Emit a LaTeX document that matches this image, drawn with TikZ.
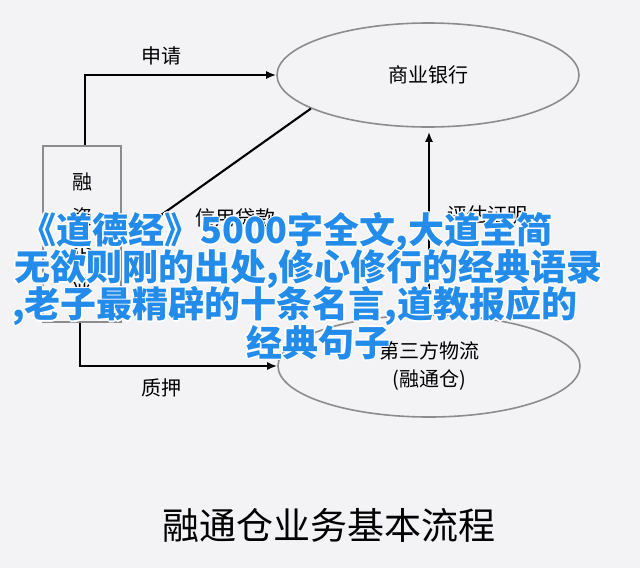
\documentclass[tikz,border=0pt]{standalone}
\usepackage{fontspec}
\setmainfont{Noto Sans CJK SC}
\usepackage{contour}
\contourlength{1.3pt}
\contournumber{10}
\usetikzlibrary{arrows.meta,positioning,shapes.geometric}
\definecolor{bgcol}{RGB}{243,242,245}
\definecolor{edgegray}{RGB}{140,140,140}
\definecolor{wmblue}{RGB}{35,140,235}
\tikzset{font=\fontsize{20}{24}\selectfont}
\tikzstyle{firmbox}=[draw=edgegray,line width=1.6pt,minimum width=78pt,minimum height=176pt,inner sep=0pt,align=center]
\tikzstyle{party}=[ellipse,draw=edgegray,line width=1.6pt,minimum width=302pt,minimum height=104pt,inner sep=0pt,align=center]
\tikzstyle{arr}=[->,line width=2.1pt,>={Latex[length=10pt,width=8pt]}]
\tikzstyle{wm}=[anchor=west,inner sep=0pt,text=wmblue,font=\fontsize{36}{36}\selectfont\bfseries]

\begin{document}
\begin{tikzpicture}[x=1pt,y=-1pt]
\useasboundingbox[fill=bgcol] (0,0) rectangle (640,568);
\node[firmbox,font=\fontsize{20}{35}\selectfont] (F) at (82,234) {融\\资\\企\\业};
\node[party] (B) at (428,75) {商业银行};
\node[party,minimum height=102pt,font=\fontsize{20}{28}\selectfont] (W) at (429,366) {第三方物流\\(融通仓)};
\node (T) at (329,525) {\fontsize{37}{40}\selectfont 融通仓业务基本流程};
\node (credit) at (235,218) {信用贷款};
\draw[arr] ([xshift=3pt]F.north) |- node[pos=0.7,above=6pt] (apply) {申请} (B.west);
\draw[arr,shorten >=11pt] (B.196) -- ([yshift=-9pt]F.east);
\draw[arr,shorten >=4pt] (W.north) -- node[pos=0.53,right=14pt] (assess) {评估证明} (W.north |- B.south);
\draw[arr] ([xshift=-2pt]F.south) |- node[pos=0.707,below=8pt] (pledge) {质押} (W.west);
%watermark lines
\node[wm] (wa) at (20,233) {\contour{white}{《道德经》5000字全文,大道至简}};
\node[wm] (wb) at (14,270) {\contour{white}{无欲则刚的出处,修心修行的经典语录}};
\node[wm] (wc) at (12,307) {\contour{white}{,老子最精辟的十条名言,道教报应的}};
\node[wm] (wd) at (246,343) {\contour{white}{经典句子}};
\end{tikzpicture}
\end{document}
